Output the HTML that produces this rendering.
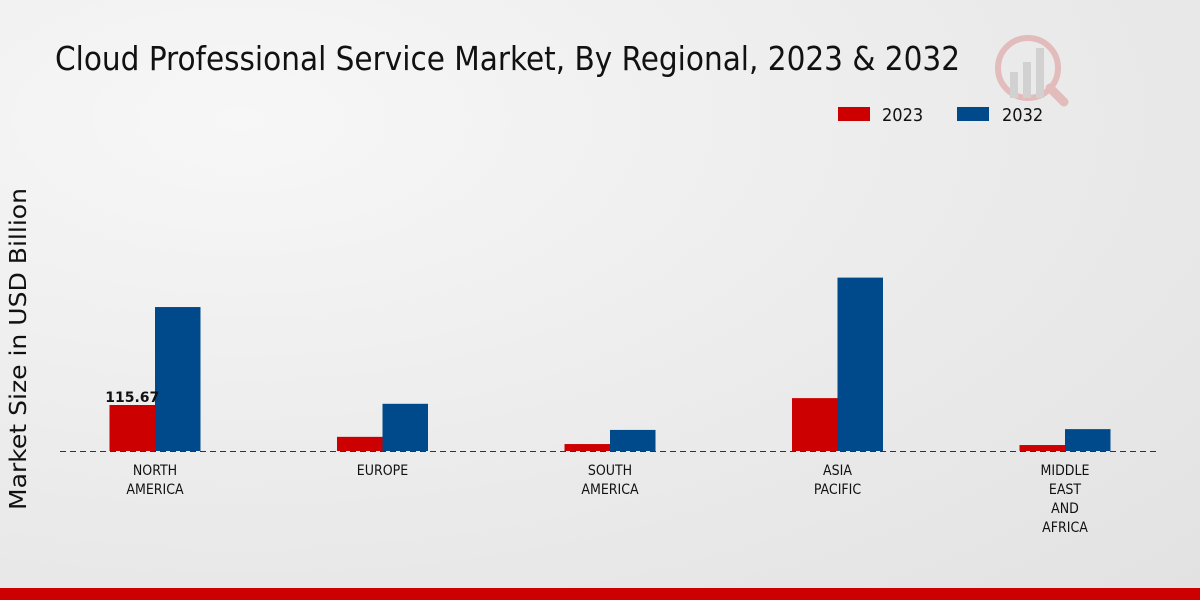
<!DOCTYPE html>
<html><head><meta charset="utf-8"><style>
html,body{margin:0;padding:0;width:1200px;height:600px;overflow:hidden}
body{background:radial-gradient(ellipse at 20% 20%,#f7f7f7 0%,#ebebeb 55%,#e2e2e2 100%);font-family:"DejaVu Sans","Liberation Sans",sans-serif}
</style></head><body>
<svg id="chart" width="1200" height="600" xmlns="http://www.w3.org/2000/svg">
<text x="55" y="70" font-family="'DejaVu Sans Condensed','Liberation Sans Narrow','DejaVu Sans',sans-serif" font-size="33" fill="#111" textLength="905" lengthAdjust="spacingAndGlyphs">Cloud Professional Service Market, By Regional, 2023 &amp; 2032</text>
<g opacity="0.25">
<circle cx="1028" cy="68" r="30" fill="none" stroke="#c33" stroke-width="6"/>
<rect x="1010" y="72" width="8" height="26" fill="#888"/>
<rect x="1023" y="62" width="8" height="36" fill="#888"/>
<rect x="1036" y="48" width="8" height="50" fill="#888"/>
<line x1="1050" y1="88" x2="1064" y2="102" stroke="#c33" stroke-width="9" stroke-linecap="round"/>
</g>
<g>
<rect x="838" y="107" width="32" height="14" fill="#cc0000"/>
<text x="882" y="121" font-size="18" fill="#111" font-family="'DejaVu Sans Condensed','DejaVu Sans',sans-serif">2023</text>
<rect x="957" y="107" width="32" height="14" fill="#004a8c"/>
<text x="1002" y="121" font-size="18" fill="#111" font-family="'DejaVu Sans Condensed','DejaVu Sans',sans-serif">2032</text>
</g>
<text transform="translate(26,349) rotate(-90)" text-anchor="middle" font-size="23" fill="#111" textLength="322" lengthAdjust="spacingAndGlyphs">Market Size in USD Billion</text>
<g id="bars"></g>
<line x1="60" y1="451.5" x2="1160" y2="451.5" stroke="#333" stroke-width="1" stroke-dasharray="6,4"/>
<g id="labels"></g>
<rect x="0" y="588" width="1200" height="12" fill="#cc0000"/>
</svg>
<script>
const categories=[["NORTH","AMERICA"],["EUROPE"],["SOUTH","AMERICA"],["ASIA","PACIFIC"],["MIDDLE","EAST","AND","AFRICA"]];
const values2023=[115.67,35.6,17.5,133,15];
const values2032=[362,118.7,53,436,55];
const shownLabels=["115.67",null,null,null,null];
const NS="http://www.w3.org/2000/svg";
const baseY=451, pxPerUnit=46/115.67;
const x0=155, step=227.5, bw=45.5;
const xC=i=>x0+i*step;
const yS=v=>baseY-v*pxPerUnit;
const bars=document.getElementById('bars'), labels=document.getElementById('labels');
function mk(t,a){const e=document.createElementNS(NS,t);for(const k in a)e.setAttribute(k,a[k]);return e;}
categories.forEach((c,i)=>{
  const r=mk('rect',{x:xC(i)-bw,y:yS(values2023[i]),width:bw,height:baseY-yS(values2023[i]),fill:'#cc0000'});
  
  
  bars.appendChild(r);
  const b=mk('rect',{x:xC(i),y:yS(values2032[i]),width:bw,height:baseY-yS(values2032[i]),fill:'#004a8c'});
  
  
  bars.appendChild(b);
  if(shownLabels[i]){
    const t=mk('text',{x:xC(i)-bw/2,y:yS(values2023[i])-3,'text-anchor':'middle','font-size':14,'font-weight':'bold',fill:'#111'});
    
    
    t.textContent=shownLabels[i];
    bars.appendChild(t);
  }
  c.forEach((line,j)=>{
    const t=mk('text',{x:xC(i),y:475+j*19,'text-anchor':'middle','font-size':14,fill:'#111','font-family':"'DejaVu Sans Condensed','DejaVu Sans',sans-serif"});
    
    
    t.textContent=line;
    labels.appendChild(t);
  });
});
</script>
</body></html>
